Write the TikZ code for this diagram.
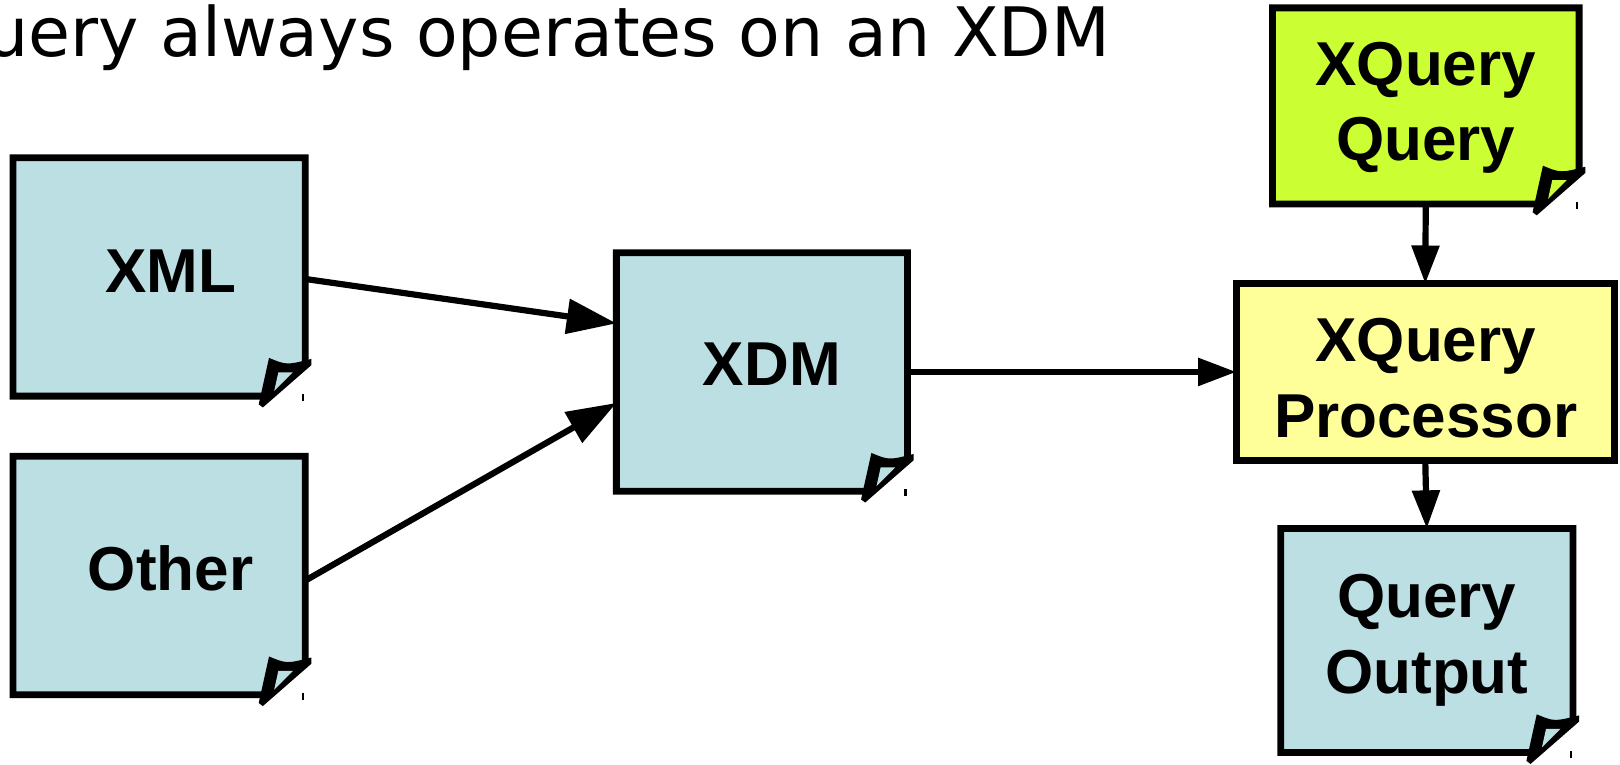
\documentclass[tikz,border=0pt]{standalone}
\usepackage{fontspec}
\setmainfont{Liberation Sans}
\newfontfamily\titlefont{DejaVu Sans}
\usetikzlibrary{calc,arrows.meta,backgrounds}

\definecolor{docblue}{RGB}{187,223,227}
\definecolor{querygreen}{RGB}{204,255,51}
\definecolor{procyellow}{RGB}{255,255,153}

\tikzset{
  box/.style={rectangle, draw=none, inner sep=0pt},
  boxtext/.style={font=\fontsize{30}{36.5}\selectfont\bfseries, align=center,
    inner sep=0pt, text height=21.5pt, text depth=0pt},
  twolines/.style={text height=58pt},
  link/.style={line width=3pt, -{Triangle[length=18.5pt,width=13pt]}},
  biglink/.style={line width=3pt, -{Triangle[length=24pt,width=16.5pt]}}
}

% document box with a turned-up corner
\newcommand{\docpage}[2]{%
  \filldraw[fill=#2, line width=3.3pt]
    (#1.north west) -- (#1.north east) -- ($(#1.south east)+(0,-32)$)
    -- ($(#1.south east)+(-37,0)$) -- (#1.south west) -- cycle;
  \fill ($(#1.south east)+(-35,-37)$) .. controls ($(#1.south east)+(-18,-30)$) .. ($(#1.south east)+(6,-36)$)
    -- ($(#1.south east)+(6,-30)$) -- ($(#1.south east)+(-41,11)$) -- ($(#1.south east)+(-45,8)$) -- cycle;
  \fill[#2] ($(#1.south east)+(-26,-23)$) -- ($(#1.south east)+(-12,-23)$)
    -- ($(#1.south east)+(-30,-5)$) -- cycle;
  \draw[line width=1pt] ($(#1.south east)+(-2,-2)$) -- ($(#1.south east)+(-2,5)$);
}

\begin{document}
\begin{tikzpicture}[x=0.5pt, y=-0.5pt]
  \useasboundingbox (0,0) rectangle (1568,740);

  \node (title) at (1075,55) [anchor=base east, inner sep=0pt]
    {\titlefont\fontsize{33}{40}\selectfont XQuery always operates on an XDM};

  \node (xml)    at (154,268)    [box, minimum width=141pt, minimum height=115pt] {};
  \node (other)  at (154,557)    [box, minimum width=141pt, minimum height=115pt] {};
  \node (xdm)    at (737.5,360)  [box, minimum width=140.5pt, minimum height=115pt] {};
  \node (query)  at (1380,102.5) [box, minimum width=148pt, minimum height=94.5pt] {};
  \node (proc)   at (1379.5,360) [box, minimum width=182.5pt, minimum height=85pt] {};
  \node (output) at (1381,620)   [box, minimum width=141pt, minimum height=108pt] {};

  \begin{scope}[on background layer]
    \docpage{xml}{docblue}
    \docpage{other}{docblue}
    \docpage{xdm}{docblue}
    \docpage{query}{querygreen}
    \docpage{output}{docblue}
    \filldraw[fill=procyellow, line width=3.3pt] (proc.north west) rectangle (proc.south east);
  \end{scope}

  \node (xmltext)    at (165,261.5) [boxtext] {XML};
  \node (othertext)  at (165,550)   [boxtext] {Other};
  \node (xdmtext)    at (747,352)   [boxtext] {XDM};
  \node (querytext)  at (1380,97.5) [boxtext, twolines] {XQuery\\Query};
  \node (proctext)   at (1380,365)  [boxtext, twolines] {XQuery\\Processor};
  \node (outputtext) at (1381,613)  [boxtext, twolines] {Query\\Output};

  \draw [biglink] ($(xml.east)+(0,2)$) -- ($(xdm.west)+(0,-47)$);
  \draw [biglink] ($(other.east)+(0,5)$) -- ($(xdm.west)+(0,30)$);
  \draw [link] (xdm.east) -- (proc.west);
  \draw [link] (query.south) -- (proc.north);
  \draw [link] (proc.south) -- (output.north);
\end{tikzpicture}
\end{document}
